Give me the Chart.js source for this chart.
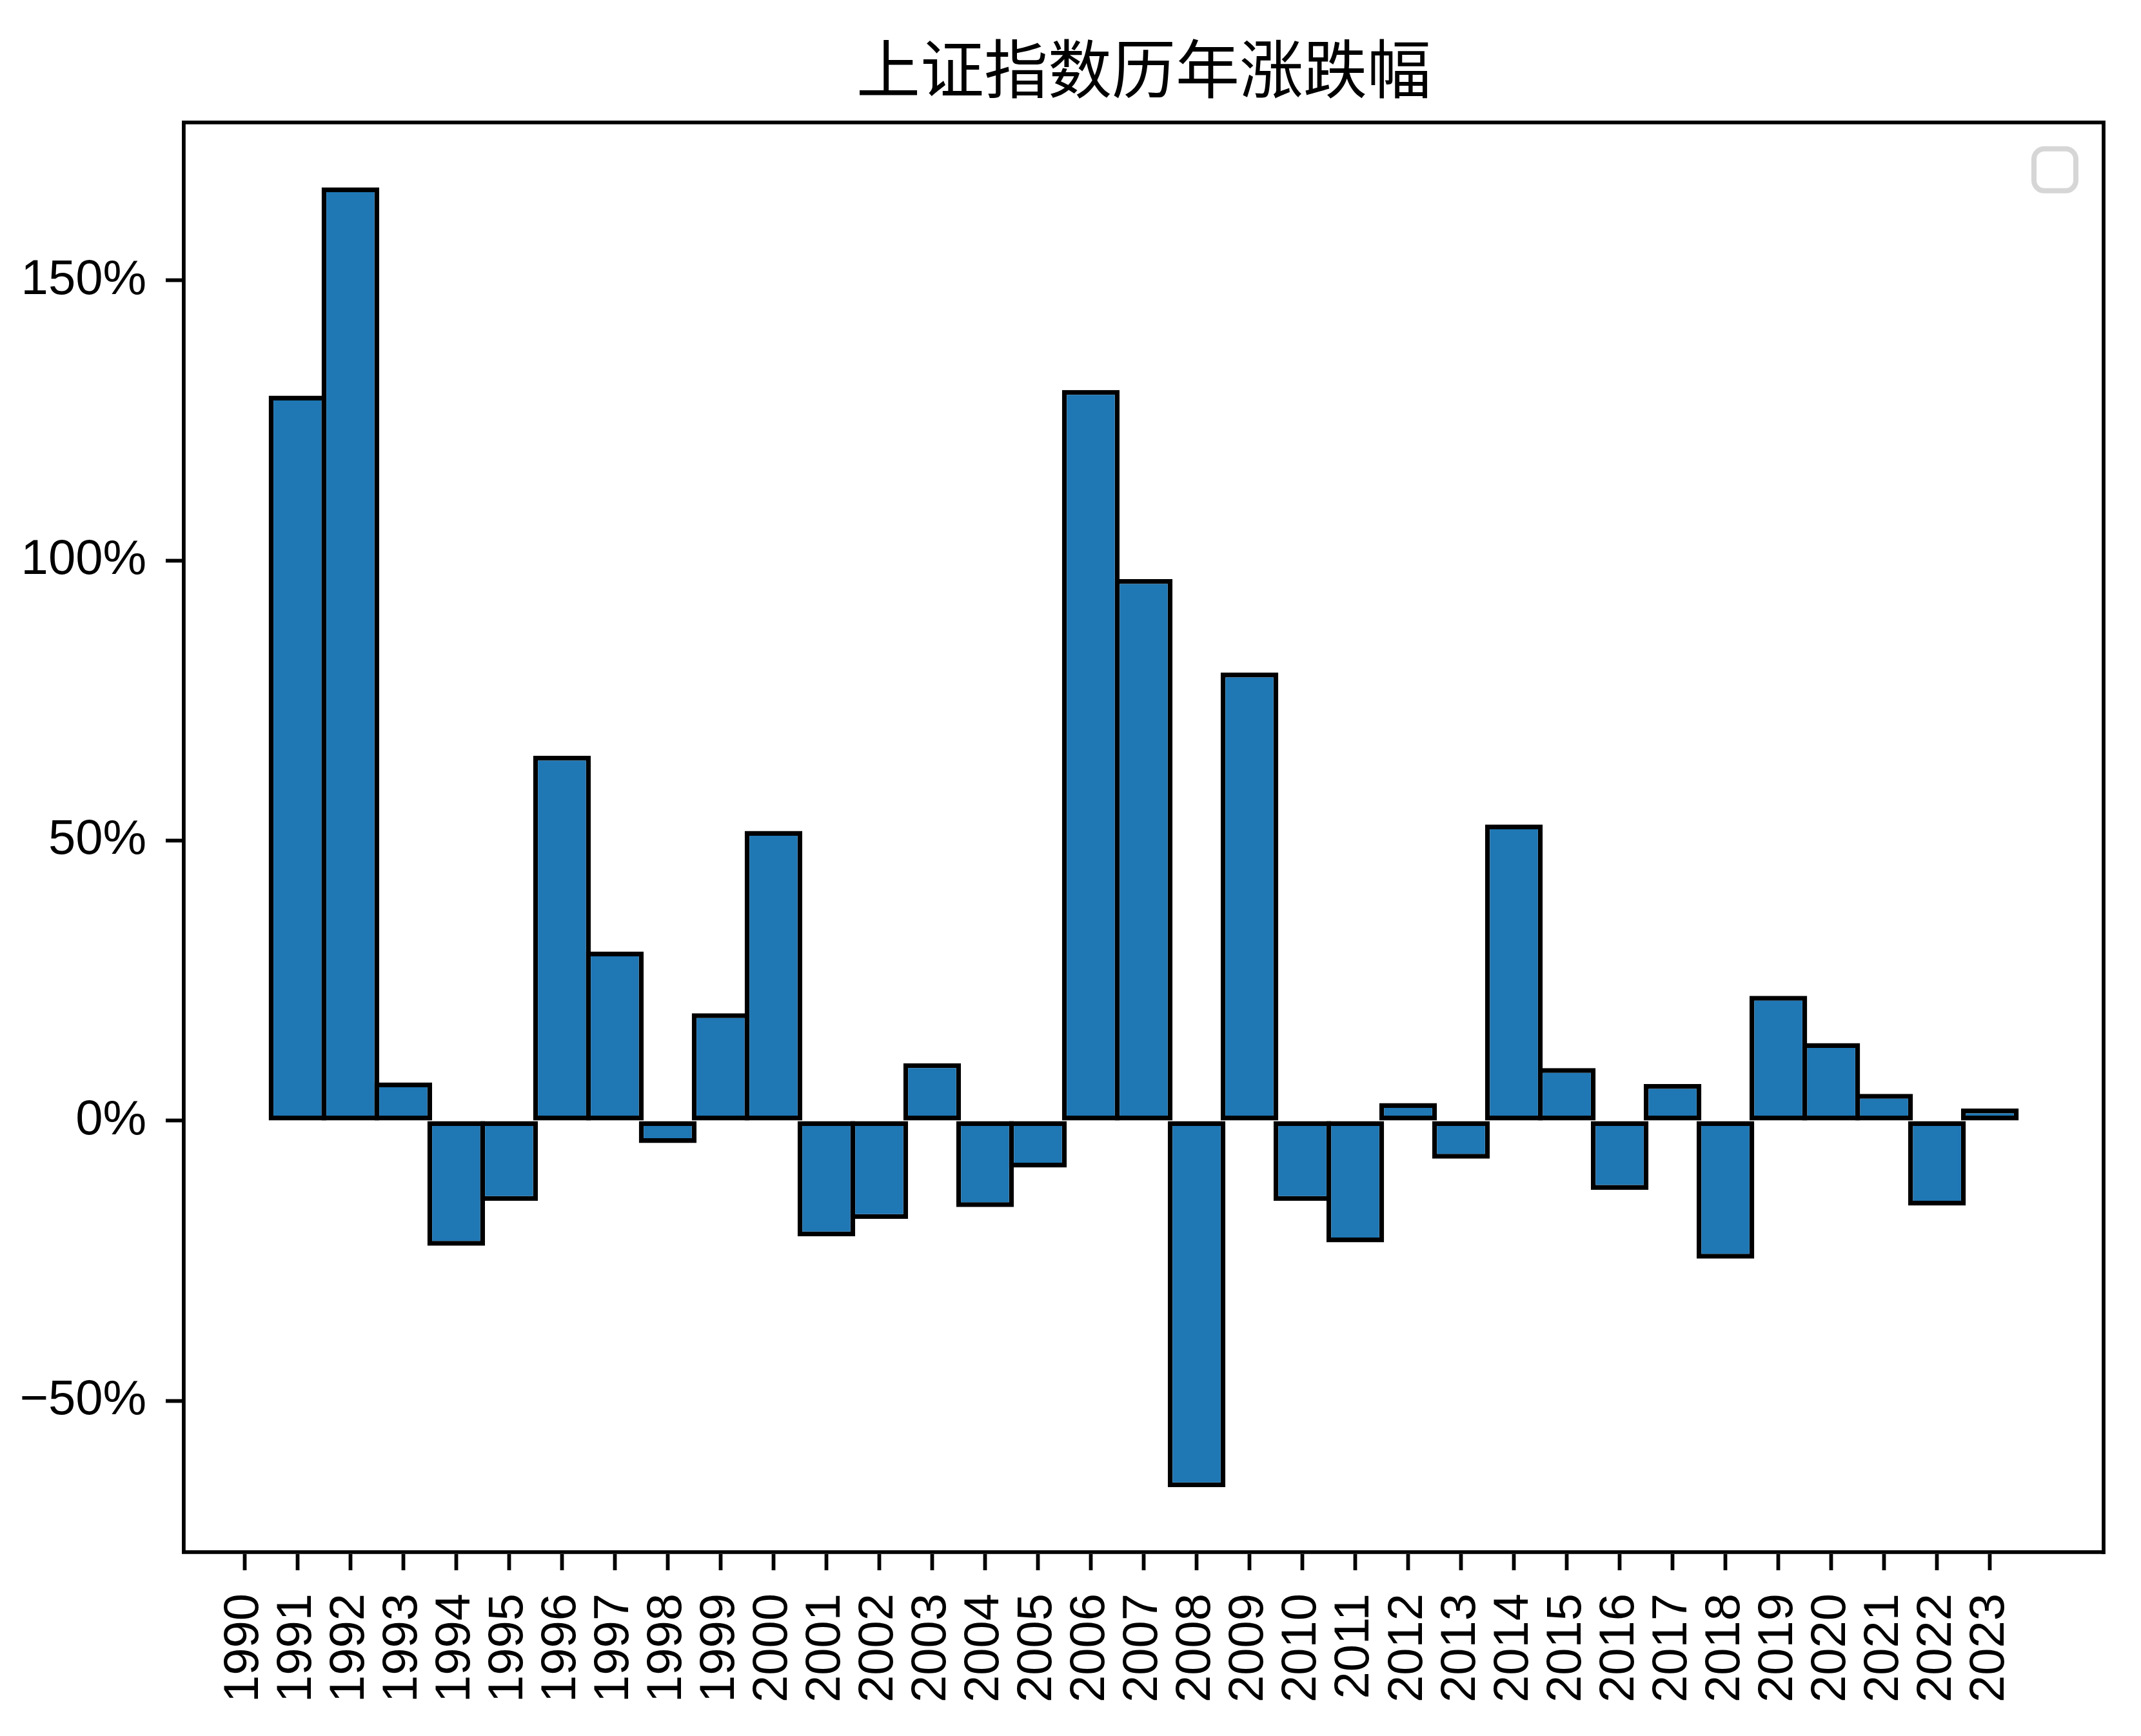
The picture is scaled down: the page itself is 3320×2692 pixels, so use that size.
<!DOCTYPE html>
<html>
<head>
<meta charset="utf-8">
<script src="https://cdn.jsdelivr.net/npm/chart.js@4.4.1/dist/chart.umd.min.js"></script>
<style>
  html, body { margin: 0; padding: 0; background: #ffffff; }
  #wrap { width: 3320px; height: 2692px; }
</style>
</head>
<body>
<div id="wrap"><canvas id="c" width="3320" height="2692"></canvas></div>
<script>
// ---- data ----
const TITLE = '上证指数历年涨跌幅';
const tickYears = [1990, 1991, 1992, 1993, 1994, 1995, 1996, 1997, 1998, 1999,
                   2000, 2001, 2002, 2003, 2004, 2005, 2006, 2007, 2008, 2009,
                   2010, 2011, 2012, 2013, 2014, 2015, 2016, 2017, 2018, 2019,
                   2020, 2021, 2022, 2023];
const barYears = [1991, 1992, 1993, 1994, 1995, 1996, 1997, 1998, 1999, 2000,
                  2001, 2002, 2003, 2004, 2005, 2006, 2007, 2008, 2009, 2010,
                  2011, 2012, 2013, 2014, 2015, 2016, 2017, 2018, 2019, 2020,
                  2021, 2022, 2023];
const changePct = [129.41, 166.57, 6.84, -22.30, -14.29, 65.14, 30.22, -3.97, 19.18, 51.73,
                   -20.62, -17.52, 10.27, -15.40, -8.33, 130.43, 96.66, -65.39, 79.98, -14.31,
                   -21.68, 3.17, -6.75, 52.87, 9.41, -12.31, 6.56, -24.59, 22.30, 13.87,
                   4.80, -15.13, 2.20];
const yTickValues = [-50, 0, 50, 100, 150];

// ---- styling ----
const AX_LW = 5.8;
const TICK_FONT = { family: '"Liberation Sans Narrow", "Liberation Sans", Arial, sans-serif', size: 76 };

const points = barYears.map((yr, i) => ({ x: yr, y: changePct[i] }));

const framePlugin = {
  id: 'frame',
  afterDraw(chart) {
    const { ctx, chartArea: a } = chart;
    ctx.save();
    ctx.strokeStyle = '#000';
    ctx.lineWidth = AX_LW;
    ctx.lineCap = 'square';
    ctx.beginPath();
    ctx.moveTo(a.left, a.top);
    ctx.lineTo(a.right, a.top);
    ctx.lineTo(a.right, a.bottom);
    ctx.stroke();
    // empty legend frame (as in the reference)
    const size = 65, r = 16;
    const x = a.right - 43 - size, y = a.top + 41;
    ctx.lineWidth = 8;
    ctx.strokeStyle = '#d6d6d6';
    ctx.fillStyle = '#ffffff';
    ctx.beginPath();
    ctx.roundRect(x, y, size, size, r);
    ctx.fill();
    ctx.stroke();
    ctx.restore();
  }
};

new Chart(document.getElementById('c'), {
  type: 'bar',
  data: {
    datasets: [{
      data: points,
      backgroundColor: '#1f77b4',
      borderColor: '#000000',
      borderWidth: 7.5,
      borderSkipped: false,
      barPercentage: 1.09,
      categoryPercentage: 1.0
    }]
  },
  options: {
    responsive: false,
    devicePixelRatio: 1,
    animation: false,
    layout: { padding: { left: 0, right: 58, top: 0, bottom: 0 } },
    plugins: {
      legend: { display: false },
      tooltip: { enabled: false },
      title: {
        display: true,
        fullSize: false,
        text: TITLE,
        color: '#000',
        font: { family: '"Noto Sans CJK SC", sans-serif', size: 99, weight: 'normal', lineHeight: 1.2 },
        padding: { top: 47, bottom: 24 }
      }
    },
    scales: {
      x: {
        type: 'linear',
        offset: false,
        min: 1988.85,
        max: 2025.15,
        afterBuildTicks(scale) { scale.ticks = tickYears.map(v => ({ value: v })); },
        afterFit(scale) { scale.height = 285; scale.paddingLeft = 0; scale.paddingRight = 0; },
        ticks: {
          autoSkip: false,
          minRotation: 90,
          maxRotation: 90,
          padding: 36,
          color: '#000',
          font: TICK_FONT,
          callback: (v) => String(v)
        },
        grid: { display: true, offset: false, drawOnChartArea: false, drawTicks: true, tickLength: 28, tickWidth: AX_LW, color: '#000' },
        border: { display: true, color: '#000', width: AX_LW }
      },
      y: {
        min: -76.99,
        max: 178.17,
        afterBuildTicks(scale) { scale.ticks = yTickValues.map(v => ({ value: v })); },
        afterFit(scale) { scale.width = 285; scale.paddingTop = 0; scale.paddingBottom = 0; },
        ticks: {
          padding: 30,
          color: '#000',
          font: TICK_FONT,
          callback: (v) => (v < 0 ? '\u2212' + Math.abs(v) : String(v)) + '%'
        },
        grid: { display: true, offset: false, drawOnChartArea: false, drawTicks: true, tickLength: 28, tickWidth: AX_LW, color: '#000' },
        border: { display: true, color: '#000', width: AX_LW }
      }
    }
  },
  plugins: [framePlugin]
});
</script>
</body>
</html>
